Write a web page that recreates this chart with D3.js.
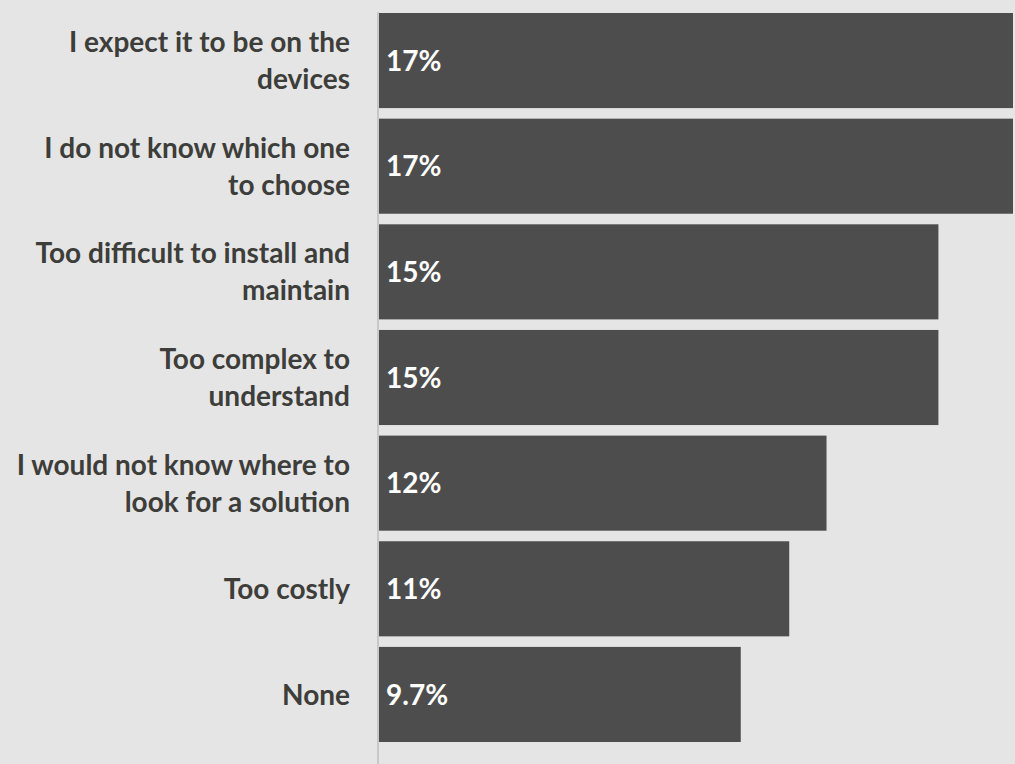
<!DOCTYPE html>
<html>
<head>
<meta charset="utf-8">
<script src="https://cdn.jsdelivr.net/npm/d3@7"></script>
<style>
  html, body { margin: 0; padding: 0; background: #e5e5e5; }
  svg { display: block; }
  text { font-family: Lato, "Open Sans", sans-serif; font-weight: 700; }
</style>
</head>
<body>
<div id="chart"></div>
<script>
// answers, with line breaks as shown
let categories = [
  "I expect it to be on the\ndevices",
  "I do not know which one\nto choose",
  "Too difficult to install and\nmaintain",
  "Too complex to\nunderstand",
  "I would not know where to\nlook for a solution",
  "Too costly",
  "None"
];
let values = [17, 17, 15, 15, 12, 11, 9.7];
let valueLabels = ["17%", "17%", "15%", "15%", "12%", "11%", "9.7%"];

let width = 1015, height = 764;
let plotLeft = 379, plotRight = 1013, plotTop = 13, plotBottom = 742;

let svg = d3.select("#chart").append("svg").attr("width", width).attr("height", height);

svg.append("rect").attr("width", width).attr("height", height).attr("fill", "#e5e5e5");

let x = d3.scaleLinear().domain([0, 17]).range([plotLeft, plotRight]);
let y = d3.scaleBand().domain(d3.range(categories.length)).range([plotTop, plotBottom]).paddingInner(0.1).paddingOuter(0);

// axis line
svg.append("line")
  .attr("x1", plotLeft - 1).attr("x2", plotLeft - 1)
  .attr("y1", 12).attr("y2", height)
  .attr("stroke", "#c8c8c8").attr("stroke-width", 2);

svg.selectAll("rect.bar")
  .data(values)
  .enter().append("rect")
  .attr("class", "bar")
  .attr("x", x(0))
  .attr("y", function(d, i) { return y(i); })
  .attr("width", function(d) { return x(d) - x(0); })
  .attr("height", y.bandwidth())
  .attr("fill", "#4d4d4d");

svg.selectAll("text.val")
  .data(values)
  .enter().append("text")
  .attr("class", "val")
  .attr("x", x(0) + 7)
  .attr("y", function(d, i) { return y(i) + y.bandwidth() / 2; })
  .attr("dy", "0.36em")
  .attr("font-size", 28)
  .attr("fill", "#ffffff")
  .text(function(d, i) { return valueLabels[i]; });

let lineH = 37;
let cats = svg.selectAll("text.cat")
  .data(categories)
  .enter().append("text")
  .attr("class", "cat")
  .attr("text-anchor", "end")
  .attr("font-size", 28)
  .attr("fill", "#3d3d3a");

cats.each(function(d, i) {
  let lines = d.split("\n");
  let cy = y(i) + y.bandwidth() / 2;
  let first = cy - (lines.length - 1) * lineH / 2;
  let t = d3.select(this);
  lines.forEach(function(line, j) {
    t.append("tspan")
      .attr("x", 350)
      .attr("y", first + j * lineH)
      .attr("dy", "0.36em")
      .text(line);
  });
});
</script>
</body>
</html>
